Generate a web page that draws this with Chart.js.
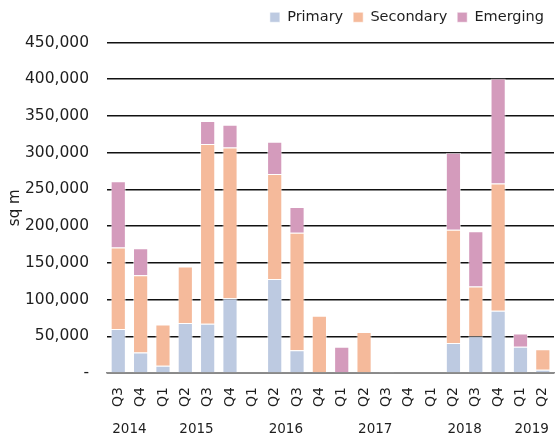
<!DOCTYPE html>
<html>
<head>
<meta charset="utf-8">
<script src="https://cdn.jsdelivr.net/npm/chart.js@4"></script>
<style>
  body { margin: 0; background: #fff; }
  #wrap { width: 557px; height: 443px; }
</style>
</head>
<body>
<div id="wrap"><canvas id="chart" width="557" height="443"></canvas></div>
<script>
// ===== DATA =====
const quarters = ["Q3", "Q4", "Q1", "Q2", "Q3", "Q4", "Q1", "Q2", "Q3", "Q4",
                  "Q1", "Q2", "Q3", "Q4", "Q1", "Q2", "Q3", "Q4", "Q1", "Q2"];
const years = ["2014", "2014", "2015", "2015", "2015", "2015", "2016", "2016", "2016", "2016",
               "2017", "2017", "2017", "2017", "2018", "2018", "2018", "2018", "2019", "2019"];
const primary   = [60000, 28000, 10000, 68000, 67000, 102000, 0, 128000, 31000, 0,
                   0, 0, 1500, 0, 0, 41000, 50000, 85000, 36000, 4500];
const secondary = [111000, 105000, 56000, 77000, 245000, 205000, 0, 143000, 160000, 78000,
                   0, 56000, 0, 0, 0, 154000, 68000, 173000, 0, 28000];
const emerging  = [90000, 37000, 0, 0, 31000, 31000, 0, 44000, 35000, 0,
                   36000, 0, 0, 0, 0, 105000, 75000, 143000, 18000, 0];
const yTicks = [0, 50000, 100000, 150000, 200000, 250000, 300000, 350000, 400000, 450000];

const FONT = "DejaVu Sans";
const TEXT = "#1e1e1e";

// ===== EXTRA SPACE UNDER THE LEGEND =====
const legendGap = {
  id: "legendGap",
  beforeInit(chart) {
    const fit = chart.legend.fit;
    chart.legend.fit = function () {
      fit.bind(chart.legend)();
      this.height += 8;
    };
  }
};

// ===== YEAR ROW + AXIS TITLE =====
const extras = {
  id: "extras",
  afterDraw(chart) {
    const ctx = chart.ctx;
    const xScale = chart.scales.x;
    const area = chart.chartArea;
    const groups = {};
    years.forEach((y, i) => {
      (groups[y] = groups[y] || []).push(xScale.getPixelForValue(i));
    });
    ctx.save();
    ctx.font = "13.5px '" + FONT + "'";
    ctx.fillStyle = TEXT;
    ctx.textAlign = "center";
    ctx.textBaseline = "middle";
    Object.keys(groups).forEach(y => {
      const xs = groups[y];
      ctx.fillText(y, (xs[0] + xs[xs.length - 1]) / 2, area.bottom + 56);
    });
    // y axis title, sitting against the tick labels like the original
    ctx.font = "15px '" + FONT + "'";
    ctx.translate(15, (area.top + area.bottom) / 2);
    ctx.rotate(-Math.PI / 2);
    ctx.fillText("sq m", 0, 0);
    ctx.restore();
  }
};

const bar = (label, data, color) => ({
  label, data,
  backgroundColor: color,
  borderColor: "rgba(255,255,255,0.55)",
  borderWidth: 1,
  barPercentage: 0.68,
  categoryPercentage: 1,
});

new Chart(document.getElementById("chart").getContext("2d"), {
  type: "bar",
  data: {
    labels: quarters,
    datasets: [
      bar("Primary", primary, "#bdcae1"),
      bar("Secondary", secondary, "#f5ba9b"),
      bar("Emerging", emerging, "#d49bbc"),
    ],
  },
  options: {
    responsive: false,
    animation: false,
    layout: { padding: { top: 0, right: 3, bottom: 30, left: 7 } },
    plugins: {
      legend: {
        position: "top",
        align: "end",
        labels: {
          font: { family: FONT, size: 14.5 },
          color: TEXT,
          boxWidth: 10,
          boxHeight: 10,
          padding: 10,
        },
      },
      tooltip: { enabled: false },
    },
    scales: {
      x: {
        stacked: true,
        afterFit: s => { s.paddingLeft = 0; s.paddingRight = 0; },
        grid: { display: false },
        border: { color: "#8c8c8c", width: 1.5 },
        ticks: {
          font: { family: FONT, size: 14 },
          color: TEXT,
          minRotation: 90,
          maxRotation: 90,
          padding: 6,
        },
      },
      y: {
        stacked: true,
        min: 0,
        max: 450000,
        afterBuildTicks: axis => { axis.ticks = yTicks.map(v => ({ value: v })); },
        grid: { color: "#111", lineWidth: 1.5, drawTicks: false },
        border: { display: false },
        ticks: {
          font: { family: FONT, size: 15.5 },
          color: TEXT,
          padding: 18,
          callback: v => v === 0 ? "-" : v.toLocaleString("en-US"),
        },
      },
    },
  },
  plugins: [legendGap, extras],
});
</script>
</body>
</html>
